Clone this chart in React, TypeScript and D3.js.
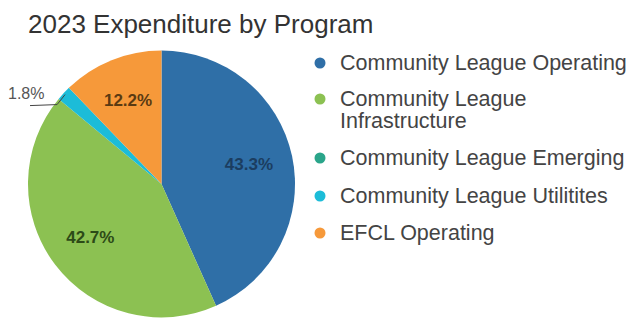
import React from "react";
import * as d3 from "d3";

const categories = [
  "Community League Operating",
  "Community League Infrastructure",
  "Community League Emerging",
  "Community League Utilitites",
  "EFCL Operating",
];
const values = [43.3, 42.7, 0, 1.8, 12.2];
const colors = ["#2f6fa7", "#8cc152", "#2aa58a", "#1cbcd8", "#f6993a"];
const labelColors = ["#1b3d60", "#2c4a17", "#1a5a4a", "#1a5a6a", "#5a3a12"];
const legendLines = [
  ["Community League Operating"],
  ["Community League", "Infrastructure"],
  ["Community League Emerging"],
  ["Community League Utilitites"],
  ["EFCL Operating"],
];
const legendY = [63, 99, 158, 196, 233];

export default function App() {
  const W = 641, H = 335;
  const cx = 161.5, cy = 184, r = 133.5;
  const pie = d3.pie<number>().sort(null).value((d) => d);
  const arcs = pie(values);
  const arc = d3.arc<d3.PieArcDatum<number>>().innerRadius(0).outerRadius(r);
  const labelArc = d3.arc<d3.PieArcDatum<number>>().innerRadius(r * 0.67).outerRadius(r * 0.67);
  const fmt = (v: number) => v.toFixed(1) + "%";
  return (
    <svg width={W} height={H} style={{ position: "absolute", left: 0, top: 0, background: "#fff", fontFamily: "Arial, 'Liberation Sans', sans-serif" }}>
      <text x={28} y={33} fontSize={26} fill="#333">2023 Expenditure by Program</text>
      <g transform={`translate(${cx},${cy})`}>
        {arcs.map((a, i) =>
          a.value > 0 ? <path key={i} d={arc(a) || ""} fill={colors[i]} /> : null
        )}
        {arcs.map((a, i) => {
          if (a.value <= 0) return null;
          if (a.value < 5) {
            const mid = (a.startAngle + a.endAngle) / 2;
            const px = Math.sin(mid) * (r - 2), py = -Math.cos(mid) * (r - 2);
            const ex = px - 8, ey = py + 10;
            const lx = -cx + 30;
            return (
              <g key={"l" + i}>
                <polyline points={`${px},${py} ${ex},${ey} ${lx},${ey + 1}`} fill="none" stroke="#444" strokeWidth={1} />
                <text x={-cx + 8} y={ey - 6} fontSize={16} fill="#555">{fmt(a.value)}</text>
              </g>
            );
          }
          const [x, y] = labelArc.centroid(a);
          return (
            <text key={"l" + i} x={x} y={y} fontSize={17} fontWeight="bold" fill={labelColors[i]} textAnchor="middle" dominantBaseline="middle">
              {fmt(a.value)}
            </text>
          );
        })}
      </g>
      <g>
        {categories.map((c, i) => (
          <g key={c}>
            <circle cx={320} cy={legendY[i]} r={5.5} fill={colors[i]} />
            {legendLines[i].map((t, j) => (
              <text key={j} x={340} y={legendY[i] + 1 + j * 22} fontSize={21.5} fill="#444" dominantBaseline="middle">{t}</text>
            ))}
          </g>
        ))}
      </g>
    </svg>
  );
}
